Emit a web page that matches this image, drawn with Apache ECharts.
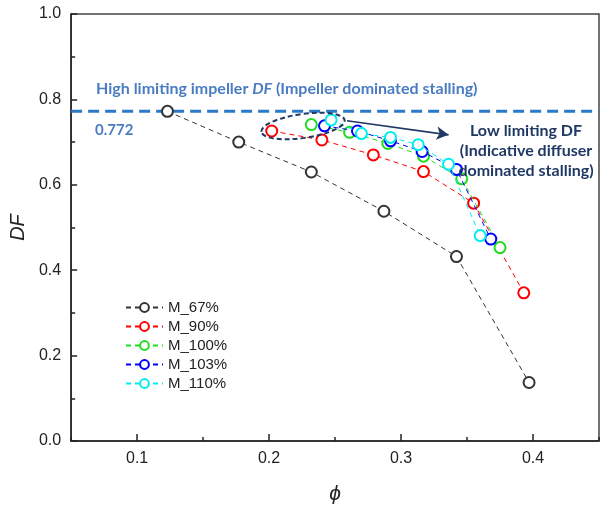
<!DOCTYPE html>
<html><head><meta charset="utf-8">
<script src="https://cdn.jsdelivr.net/npm/echarts@6/dist/echarts.min.js"></script>
<style>html,body{margin:0;padding:0;background:#fff}#c{width:600px;height:510px}</style>
</head><body><div id="c"></div>
<script>
const seriesNames = ['M_67%','M_90%','M_100%','M_103%','M_110%'];
const phi67  = [0.123,0.177,0.232,0.287,0.342,0.397];
const df67   = [0.772,0.700,0.630,0.538,0.432,0.137];
const phi90  = [0.202,0.240,0.279,0.317,0.355,0.393];
const df90   = [0.726,0.705,0.670,0.631,0.557,0.347];
const phi100 = [0.232,0.261,0.290,0.317,0.346,0.375];
const df100  = [0.741,0.723,0.697,0.667,0.614,0.453];
const phi103 = [0.242,0.267,0.292,0.316,0.342,0.368];
const df103  = [0.738,0.726,0.703,0.678,0.636,0.473];
const phi110 = [0.247,0.270,0.292,0.313,0.336,0.360];
const df110  = [0.752,0.720,0.711,0.694,0.648,0.481];
const limitDF = 0.772;
const limitPhi = [0.05, 0.45];
const arrowFrom = [0.259, 0.750];
const arrowTo   = [0.336, 0.717];
const xTickLabels = ['0.1','0.2','0.3','0.4'];

const colors = ['#333333','#ff0000','#22dd22','#0000ff','#00eeee'];
const phis = [phi67,phi90,phi100,phi103,phi110];
const dfs  = [df67,df90,df100,df103,df110];
const FONT = 'Liberation Sans, Arial, sans-serif';

const chart = echarts.init(document.getElementById('c'), null, {renderer:'canvas'});

const dataSeries = seriesNames.map((n,i)=>({
  name:n, type:'line', xAxisIndex:0, yAxisIndex:0,
  data: phis[i].map((p,j)=>[p, dfs[i][j]]),
  symbol:'emptyCircle', symbolSize:11,
  itemStyle:{color:colors[i], borderWidth:1.4},
  lineStyle:{color:colors[i], width:1, type:[5,4]},
  z: 3+i, animation:false
}));

const limitSeries = {
  name:'limit', type:'line', xAxisIndex:0, yAxisIndex:0,
  data: limitPhi.map(p=>[p, limitDF]),
  symbol:'none', silent:true, z:2, animation:false,
  lineStyle:{color:'#2a7ac8', width:3, type:[11,6]},
  markLine:{
    silent:true, animation:false, symbol:['none','arrow'], symbolSize:[10,12],
    label:{show:false},
    lineStyle:{color:'#1f3864', width:1.6, type:'solid'},
    data:[[{coord:arrowFrom},{coord:arrowTo}]]
  }
};

const option = {
  backgroundColor:'#ffffff',
  animation:false,
  grid:{left:71, right:1, top:14, bottom:69, show:true, borderColor:'#444', borderWidth:1.5, containLabel:false},
  xAxis:[{
    type:'value', min:0.05, max:0.45, splitNumber:4, position:'bottom',
    name:'ϕ', nameLocation:'middle', nameGap:43,
    nameTextStyle:{fontFamily:FONT, fontSize:21, fontStyle:'italic', color:'#222'},
    axisLine:{show:true, onZero:false, lineStyle:{color:'#222', width:1.5}},
    axisTick:{show:true, inside:true, length:7, lineStyle:{color:'#222', width:1.5}},
    axisLabel:{fontFamily:FONT, fontSize:16, color:'#222', margin:10, showMinLabel:false, showMaxLabel:false,
      formatter:v=>{const s=v.toFixed(1); return xTickLabels.indexOf(s)>=0?s:'';}},
    splitLine:{show:false}
  },{
    type:'value', min:0.05, max:0.45, interval:0.05, position:'bottom',
    axisLine:{show:false}, axisLabel:{show:false}, splitLine:{show:false},
    axisTick:{show:true, inside:true, length:4, lineStyle:{color:'#222', width:1.5}}
  }],
  yAxis:{
    type:'value', min:0, max:1, interval:0.2,
    name:'DF', nameLocation:'middle', nameGap:42,
    nameTextStyle:{fontFamily:FONT, fontSize:20, fontStyle:'italic', color:'#222'},
    axisLine:{show:true, onZero:false, lineStyle:{color:'#222', width:1.5}},
    axisTick:{show:true, inside:true, length:6, lineStyle:{color:'#222', width:1.5}},
    minorTick:{show:true, splitNumber:2, length:4, lineStyle:{color:'#222', width:1.5}},
    axisLabel:{fontFamily:FONT, fontSize:16, color:'#222', margin:10, formatter:v=>v.toFixed(1)},
    splitLine:{show:false}
  },
  legend:{
    data:seriesNames, orient:'vertical', left:120, top:295,
    itemWidth:37, itemHeight:11, itemGap:4,
    textStyle:{fontFamily:FONT, fontSize:15, color:'#222'}
  },
  series:[limitSeries].concat(dataSeries),
  graphic:[
    {type:'text', left:96, top:81, z:10, silent:true,
     style:{text:'{a|High limiting impeller }{b|DF}{a| (Impeller dominated stalling)}',
       rich:{a:{fontFamily:'Lato', fontWeight:'bold', fontSize:16, fill:'#4a7cc2'},
             b:{fontFamily:'Lato', fontWeight:'bold', fontStyle:'italic', fontSize:16, fill:'#4a7cc2'}}}},
    {type:'text', left:95, top:123, z:10, silent:true,
     style:{text:'0.772', fontFamily:'Lato', fontWeight:'bold', fontSize:15, fill:'#4a7cc2'}},
    {type:'text', x:526, y:121, z:10, silent:true,
     style:{text:'Low limiting DF\n(Indicative diffuser\ndominated stalling)', align:'center', verticalAlign:'top',
       lineHeight:20, fontFamily:'Lato', fontWeight:'bold', fontSize:16, fill:'#1f3864'}},
    {type:'ellipse', z:10, silent:true, x:303, y:126, rotation:0.14,
     shape:{cx:0, cy:0, rx:42, ry:12},
     style:{fill:'none', stroke:'#1f3864', lineWidth:2, lineDash:[5,3]}}
  ]
};
chart.setOption(option);
</script></body></html>
